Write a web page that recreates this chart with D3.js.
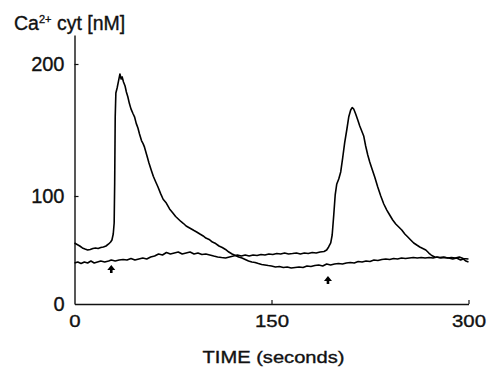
<!DOCTYPE html>
<html><head><meta charset="utf-8">
<script src="https://cdn.jsdelivr.net/npm/d3@7"></script>
<style>
html,body{margin:0;padding:0;background:#fff;}
svg{display:block;font-family:"Liberation Sans",Arial,Helvetica,sans-serif;}
</style></head>
<body>
<script>
// ---- data ----
const timeA = [0,2,4,6,8,10,12,14,16,18,20,22,24,26,27.5,28.5,29.5,30.2,30.6,31,31.5,32.5,33.5,34.6,35.5,36.3,37.3,38.5,39.5,40.6,41.8,43,44.5,45.7,47,48.3,49.5,51,52.3,53.3,55,56.7,58.4,60,61.7,63.5,65.5,67.5,69.9,72.4,74.9,77,79,81,83,85,87,89,91,93,95.5,98,100,102.5,105,107.5,110,112.5,115,117.5,120,122.5,125,127.5,130,132.5,135,137.5,140,142.5,145,147.5,150,153,156,159,162,165,168,171,174,177,180,183,186,189,192,195,198,201,204,207,210,213,216,219,222,225,228,231,234,237,240,243,246,249,252,255,258,261,264,267,270,273,276,279,282,285,288,291,294,296,298,300];
const caA   = [56.5,55.1,53.7,51.9,50.9,50.0,50.5,51.4,51.9,51.4,52.3,52.8,53.7,55.6,57.4,59.3,64.8,75,110,160,178,182,187,192.4,188.6,190.2,186.4,183.3,178.8,175.2,170,166,162.5,160,155,151.5,147,142,139.5,137,131,125,119.7,115,111,107,102,97,93.5,88,84.3,81,78.7,76.4,74.5,72.2,70.8,69.4,68,66.7,64.8,63,61.1,59.8,57.4,56,53.7,52.3,50.5,48.1,46.3,44.9,43.5,42.6,41.2,39.8,38.9,38.5,37.5,36.6,36.1,35.6,35.2,34.3,34.7,33.8,34.3,33.3,33.8,34.3,33.8,35.2,34.7,35.6,36.1,35.2,37,36.1,37,37.5,37,38,38.4,38,39.4,38.9,39.8,39.4,40.7,40.3,41.2,41.7,41.2,42.1,41.7,42.6,42.1,42.6,43.1,42.6,43.1,42.6,43.1,42.6,43.5,42.6,43.1,42.6,41.7,42.6,40.7,41.7,39.8,38.9];
const timeB = [0,2.5,5,7.5,10,12.5,15,17.5,20,23,26,28,31,34,37,40,43,46,49,52,55,58,61,64,67,70,73,76,79,82,85,88,91,94,97,100,103,106,109,112,115,118,121,124,127,130,133,136,139,142,145,148,151,154,157,160,163,166,169,172,175,178,181,184,187,190,192,193.5,195.1,196.2,197.4,198.5,199.7,201.2,202.7,204.2,205.7,207.3,208.8,210.3,211.5,212.6,214.1,215.7,217.2,218.7,220.2,221.7,223.3,224.8,226.3,228.6,230.9,233.2,235.5,237.8,240,242.3,244.6,246.9,249.2,251.5,253.8,256,258.3,260.6,262.9,265.2,267.5,269.8,272,274.3,278,281,284,287,290,293,296,300];
const caB   = [38.0,38.9,37.5,38.9,38.0,39.8,38.0,38.9,39.8,38.9,39.8,40.7,39.8,40.7,41.2,40.7,42.1,40.7,41.7,42.6,41.7,43.5,44.4,46.3,45.4,47.7,46.3,47.2,48.1,46.3,47.2,48.1,46.3,47.2,45.8,46.3,45.4,44.4,43.5,43.0,42.6,43.5,44.4,45.4,44.4,45.4,44.4,45.4,44.9,45.8,45.4,46.3,45.8,46.7,46.3,47.2,46.3,46.7,47.2,46.3,47.2,46.7,47.7,47.2,48.1,48.6,50.0,52.8,56.5,63.9,82.4,100.8,109.1,112.9,118.2,128.8,140.2,150,159.8,165.2,167,165.9,162.1,157.6,153,149.2,145.5,137.9,131.1,125.8,121.2,114.4,106.8,100,92.6,87,82.4,77.8,74.1,71.3,68.5,64.8,62,59.3,56.5,54.6,52.8,51.4,50,47.2,44.9,43.5,43.1,43.5,42.6,43.1,42.6,43.5,42.1,41.7];
const arrowTimes  = [28, 193];
const arrowLevels = [36, 26];
const xTicks = [0, 150, 300];
const yTicks = [0, 100, 200];
const yAxisTop = 222;

// ---- layout ----
const W = 490, H = 367;
const svg = d3.select("body").append("svg").attr("width", W).attr("height", H);

const x = d3.scaleLinear().domain([0, 300]).range([74.5, 468.5]);
// calibrated (non-linear) concentration axis, piecewise through the labelled ticks
const y = d3.scaleLinear().domain([0, 100, 200, yAxisTop]).range([304, 196, 64, 35]);

const ink = "#111";
// axes
const gx = svg.append("g").attr("transform", `translate(0,${y(0)})`)
  .call(d3.axisBottom(x).tickValues(xTicks).tickSizeInner(-4).tickSizeOuter(0).tickPadding(11).tickFormat(d3.format("d")));
gx.select(".domain").attr("stroke", ink).attr("stroke-width", 1.4);
gx.selectAll(".tick line").attr("stroke", ink).attr("stroke-width", 1.2);
gx.selectAll(".tick text").attr("font-size", 17).attr("fill", ink)
  .attr("stroke", ink).attr("stroke-width", 0.35)
  .attr("font-family", "Liberation Sans, Arial, sans-serif")
  .attr("transform", "scale(1.2,1)");
gx.selectAll(".tick").filter(d => d === 0).select("line").remove();

const gy = svg.append("g").attr("transform", `translate(${x(0)},0)`)
  .call(d3.axisLeft(y).tickValues(yTicks).tickSizeInner(-4).tickSizeOuter(0).tickPadding(10).tickFormat(d3.format("d")));
gy.select(".domain").attr("stroke", ink).attr("stroke-width", 1.4);
gy.selectAll(".tick line").attr("stroke", ink).attr("stroke-width", 1.2);
gy.selectAll(".tick text").attr("font-size", 20).attr("fill", ink)
  .attr("stroke", ink).attr("stroke-width", 0.35)
  .attr("font-family", "Liberation Sans, Arial, sans-serif");
gy.selectAll(".tick").filter(d => d === 0).select("line").remove();

// traces
const line = d3.line().x(d => x(d[0])).y(d => y(d[1]));
const traces = [d3.zip(timeA, caA), d3.zip(timeB, caB)];
svg.append("g").selectAll("path").data(traces).join("path")
  .attr("d", line).attr("fill", "none").attr("stroke", "#000")
  .attr("stroke-width", 1.6).attr("stroke-linejoin", "round");

// stimulus arrows
const arrowPath = "M0,0 L-4,5 L-1.3,5 L-1.3,8 L1.3,8 L1.3,5 L4,5 Z";
svg.append("g").selectAll("path").data(d3.zip(arrowTimes, arrowLevels)).join("path")
  .attr("transform", d => `translate(${x(d[0])},${y(d[1])})`)
  .attr("d", arrowPath).attr("fill", "#000");

// y title
const yt = svg.append("text").attr("x", 14).attr("y", 30).attr("font-size", 19.5)
  .attr("fill", ink).attr("stroke", ink).attr("stroke-width", 0.35);
yt.append("tspan").text("Ca");
yt.append("tspan").attr("font-size", 11).attr("dy", -7).text("2+");
yt.append("tspan").attr("dy", 7).text(" cyt [nM]");

// x title
svg.append("g").attr("transform", `translate(${(x(0)+x(300))/2 + 2},363)`)
  .append("text").attr("text-anchor", "middle").attr("font-size", 16.5)
  .attr("fill", ink).attr("stroke", ink).attr("stroke-width", 0.35)
  .attr("transform", "scale(1.22,1)").text("TIME (seconds)");
</script>
</body></html>
